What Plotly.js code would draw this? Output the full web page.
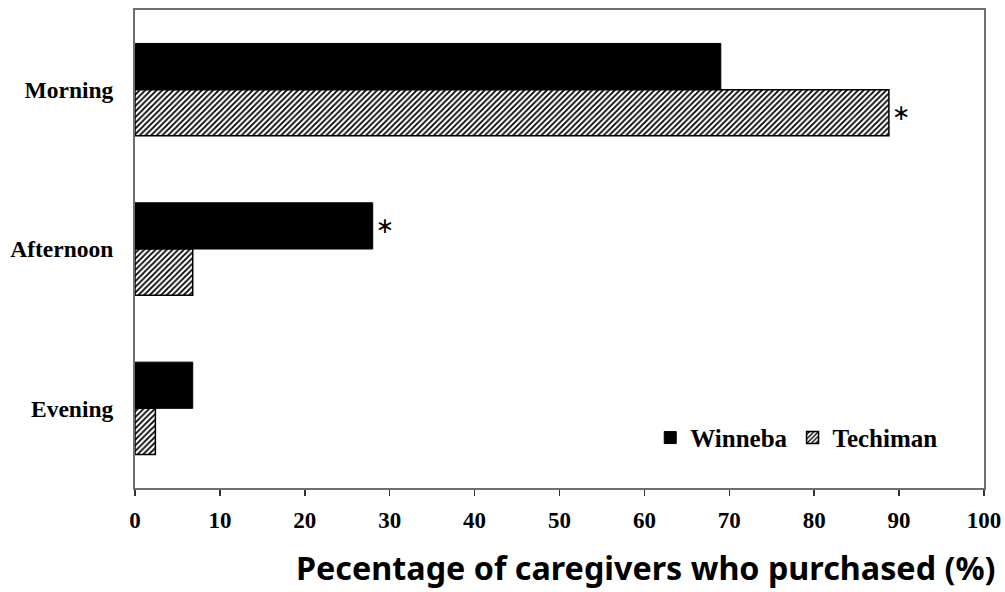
<!DOCTYPE html>
<html>
<head>
<meta charset="utf-8">
<script src="https://cdn.plot.ly/plotly-3.0.1.min.js"></script>
<style>html,body{margin:0;padding:0;background:#fff;}#chart{width:1005px;height:592px;}</style>
</head>
<body>
<div id="chart"></div>
<script>
var categories = ['Morning', 'Afternoon', 'Evening'];
var winneba = [69.0, 28.0, 6.8];
var techiman = [88.8, 6.8, 2.4];
var winnebaMarks = ['', '\u2217', ''];
var techimanMarks = ['\u2217', '', ''];
var xTicks = [0, 10, 20, 30, 40, 50, 60, 70, 80, 90, 100];

var serif = 'Liberation Serif, Times New Roman, serif';
var markFont = {family: 'DejaVu Sans, sans-serif', size: 22, color: '#000'};

var traces = [
  {
    type: 'bar', orientation: 'h', name: 'Winneba',
    y: categories, x: winneba,
    text: winnebaMarks, textposition: 'outside', cliponaxis: false,
    textfont: markFont,
    marker: {color: '#000', line: {color: '#000', width: 1}},
    hoverinfo: 'x+y'
  },
  {
    type: 'bar', orientation: 'h', name: 'Techiman',
    y: categories, x: techiman,
    text: techimanMarks, textposition: 'outside', cliponaxis: false,
    textfont: markFont,
    marker: {color: '#fff', line: {color: '#000', width: 1.5},
      pattern: {shape: '/', fgcolor: '#000', bgcolor: '#fff', size: 4, solidity: 0.45}},
    hoverinfo: 'x+y'
  }
];

var layout = {
  width: 1005, height: 592,
  margin: {l: 135, r: 21, t: 10, b: 104},
  paper_bgcolor: '#fff', plot_bgcolor: '#fff',
  barmode: 'group', bargap: 0.42, bargroupgap: 0,
  showlegend: true,
  legend: {
    orientation: 'h', x: 0.952, xanchor: 'right', y: 0.105, yanchor: 'middle',
    font: {family: serif, size: 25, color: '#000', weight: 'bold'},
    bgcolor: 'rgba(0,0,0,0)', itemwidth: 30, tracegroupgap: 0
  },
  xaxis: {
    range: [0, 100], tickvals: xTicks, ticktext: xTicks.map(String),
    showgrid: false, zeroline: false,
    showline: true, linecolor: '#6e6e6e', linewidth: 2, mirror: true,
    ticks: 'outside', ticklen: 6, tickwidth: 1.5, tickcolor: '#333',
    ticklabelstandoff: 4,
    tickfont: {family: serif, size: 23, color: '#000', weight: 'bold'}, fixedrange: true
  },
  yaxis: {
    type: 'category', autorange: 'reversed',
    showgrid: false, zeroline: false,
    showline: true, linecolor: '#6e6e6e', linewidth: 2, mirror: true,
    ticks: '', ticklabelstandoff: 15,
    tickfont: {family: serif, size: 23.5, color: '#000', weight: 'bold'}, fixedrange: true
  },
  annotations: [{
    xref: 'paper', yref: 'paper', x: 1.016, y: -0.165, xanchor: 'right', yanchor: 'middle',
    text: 'Pecentage of caregivers who purchased (%)', showarrow: false,
    font: {family: 'Noto Sans, Open Sans, sans-serif', size: 32.3, color: '#000', weight: 'bold'}
  }]
};

Plotly.newPlot('chart', traces, layout, {displayModeBar: false, staticPlot: true});
</script>
</body>
</html>
